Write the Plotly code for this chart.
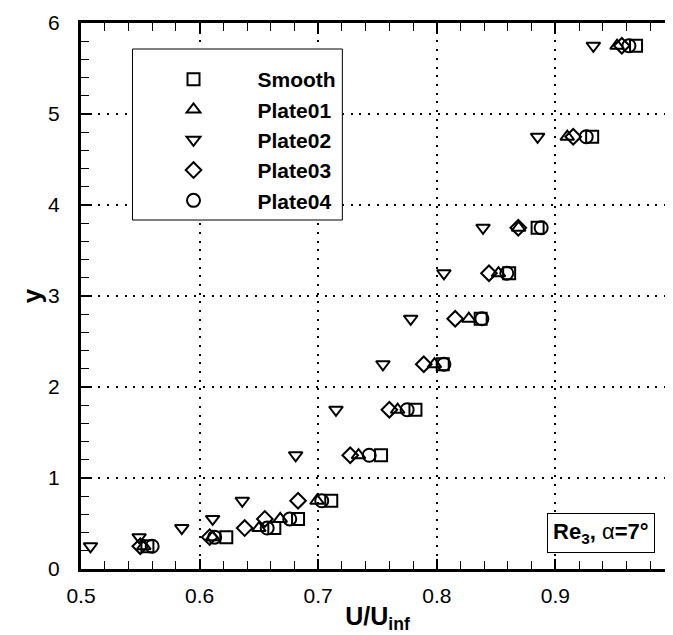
import plotly.graph_objects as go

y_levels = [0.25, 0.35, 0.45, 0.55, 0.75, 1.25, 1.75, 2.25, 2.75, 3.25, 3.75, 4.75, 5.75]
smooth  = [0.556, 0.6225, 0.663, 0.683, 0.711, 0.753, 0.782, 0.805, 0.837, 0.861, 0.885, 0.931, 0.968]
plate01 = [0.553, 0.611, 0.650, 0.668, 0.699, 0.734, 0.767, 0.798, 0.827, 0.852, 0.869, 0.910, 0.952]
plate02 = [0.508, 0.549, 0.585, 0.611, 0.636, 0.681, 0.715, 0.7546, 0.778, 0.806, 0.839, 0.885, 0.932]
plate03 = [0.550, 0.6085, 0.638, 0.655, 0.683, 0.727, 0.760, 0.789, 0.8155, 0.844, 0.8687, 0.915, 0.956]
plate04 = [0.560, 0.6127, 0.657, 0.676, 0.703, 0.743, 0.775, 0.806, 0.838, 0.859, 0.888, 0.926, 0.962]

series_names = ["Smooth", "Plate01", "Plate02", "Plate03", "Plate04"]
series_vals = [smooth, plate01, plate02, plate03, plate04]
symbols = ["square-open", "triangle-up-open", "triangle-down-open", "diamond-open", "circle-open"]
sizes = [12, 12, 12, 12, 13]

FONT = "Liberation Sans, Arial, Helvetica, sans-serif"

fig = go.Figure()
for name, vals, sym, sz in zip(series_names, series_vals, symbols, sizes):
    fig.add_trace(go.Scatter(
        x=vals, y=y_levels, mode="markers", name=name,
        marker=dict(symbol=sym, size=sz, color="black", line=dict(color="black", width=2)),
    ))

axis_common = dict(
    showline=True, linecolor="black", linewidth=3, mirror="ticks",
    ticks="inside", ticklen=10, tickwidth=2, tickcolor="black",
    showgrid=True, gridcolor="black", gridwidth=2, griddash="2px,6.7px",
    zeroline=False, ticklabeloverflow="allow",
    tickfont=dict(family=FONT, size=21, color="black"),
)

fig.update_xaxes(
    range=[0.5, 1.0], dtick=0.1, tick0=0.5, tickformat="~g",
    minor=dict(dtick=0.02, ticks="inside", ticklen=8, tickwidth=1, tickcolor="black", showgrid=False),
    title=dict(text="<b>U/U<sub>inf</sub></b>", font=dict(family=FONT, size=25, color="black"), standoff=2),
    ticklabelstandoff=6,
    **axis_common,
)
fig.update_yaxes(
    range=[0, 6], dtick=1, tick0=0,
    minor=dict(dtick=0.2, ticks="inside", ticklen=8, tickwidth=1, tickcolor="black", showgrid=False),
    title=dict(text="<b>y</b>", font=dict(family=FONT, size=26, color="black"), standoff=0),
    ticklabelstandoff=14,
    **axis_common,
)

# legend frame
fig.add_shape(type="rect", xref="paper", yref="paper",
              x0=(125 - 73) / 599, x1=(337 - 73) / 599,
              y0=(561 - 212) / 546, y1=(561 - 41) / 546,
              line=dict(color="black", width=1), fillcolor="white", layer="above")

fig.update_layout(
    width=673, height=635,
    margin=dict(l=73, r=1, t=15, b=74),
    plot_bgcolor="white", paper_bgcolor="white",
    showlegend=True,
    legend=dict(
        x=(122 - 73) / 599, y=(561 - 51) / 546, xanchor="left", yanchor="top",
        bgcolor="rgba(0,0,0,0)", borderwidth=0,
        font=dict(family=FONT, size=21, color="black", weight="bold"),
        itemwidth=118,
    ),
    annotations=[dict(
        xref="paper", yref="paper",
        x=(653 - 73) / 599, y=(561 - 525) / 546, xanchor="right", yanchor="middle",
        text="<b>Re<sub>3</sub>, </b>α<b>=7°</b>",
        showarrow=False, font=dict(family=FONT, size=22, color="black"),
        bordercolor="black", borderwidth=1, bgcolor="white", borderpad=5,
    )],
)

fig.write_html("out.html")
